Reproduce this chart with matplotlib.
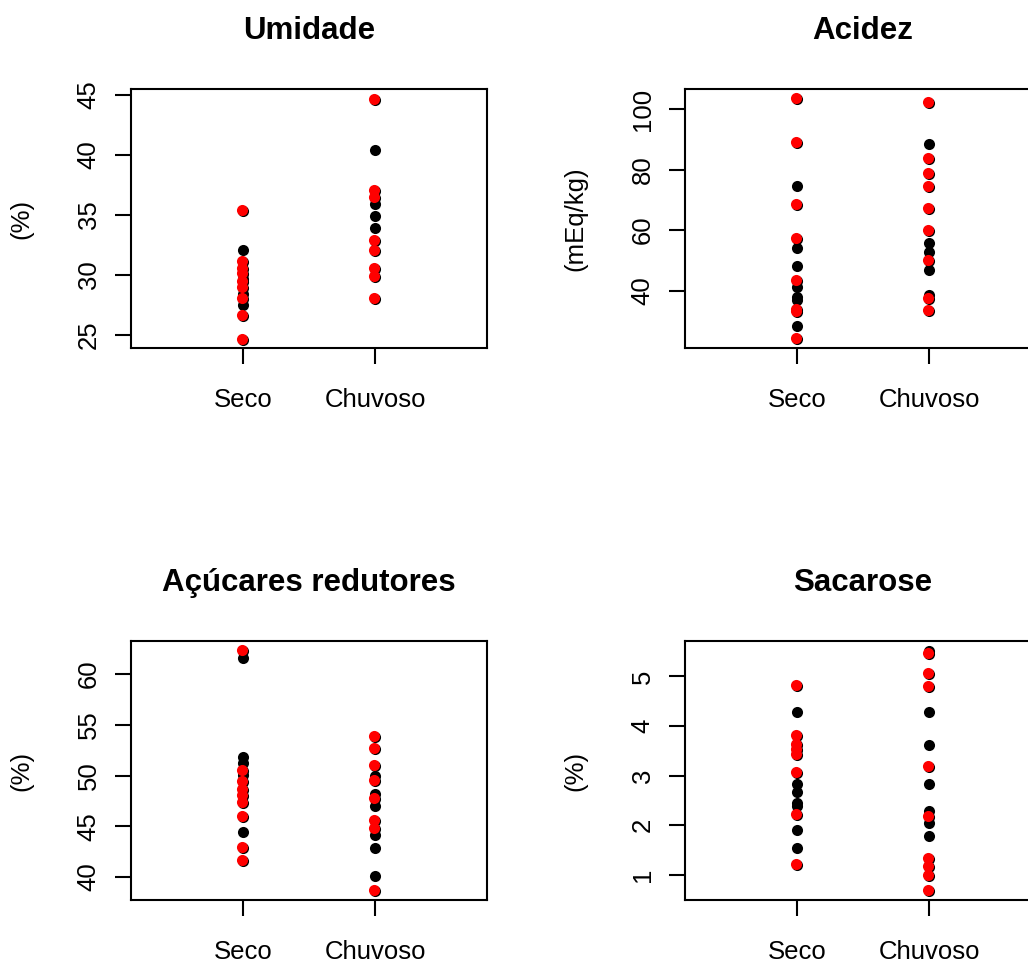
import numpy as np
import matplotlib
matplotlib.use('Agg')
import matplotlib.pyplot as plt
from matplotlib.transforms import offset_copy

plt.rcParams['font.family'] = ['Liberation Sans', 'DejaVu Sans']

groups = ['Seco', 'Chuvoso']
titles = ['Umidade', 'Acidez', 'Açúcares redutores', 'Sacarose']
ylabels = ['(%)', '(mEq/kg)', '(%)', '(%)']

# black points (all samples) and red points (highlighted samples)
umid_seco_black = [32.1, 27.5, 29.7, 28.4]
umid_chuv_black = [40.4, 35.9, 34.9, 33.9]
umid_seco_red = [35.3, 31.1, 30.5, 30.1, 29.4, 28.9, 28.0, 26.6, 24.6]
umid_chuv_red = [44.55, 37.0, 36.4, 32.8, 32.0, 30.5, 29.85, 28.0]

acid_seco_black = [74.6, 54.0, 48.2, 41.1, 37.8, 36.9, 28.3]
acid_chuv_black = [88.5, 55.6, 52.7, 46.7, 38.6]
acid_seco_red = [103.2, 88.7, 68.2, 57.2, 43.2, 33.6, 32.9, 24.0]
acid_chuv_red = [102.0, 83.6, 78.4, 74.3, 67.0, 59.8, 49.8, 37.4, 33.4]

acuc_seco_black = [61.6, 51.8, 51.2, 50.1, 44.4]
acuc_chuv_black = [50.0, 48.2, 47.0, 44.1, 42.9, 40.1]
acuc_seco_red = [62.3, 50.5, 49.4, 48.6, 48.0, 47.3, 45.9, 42.9, 41.6]
acuc_chuv_red = [53.8, 52.6, 50.9, 49.5, 47.7, 45.5, 44.7, 38.6]

sac_seco_black = [4.29, 2.83, 2.67, 2.46, 2.38, 1.91, 1.54]
sac_chuv_black = [5.52, 4.29, 3.61, 2.83, 2.28, 2.04, 1.79]
sac_seco_red = [4.80, 3.79, 3.62, 3.52, 3.42, 3.05, 2.21, 1.20]
sac_chuv_red = [5.45, 5.05, 4.78, 3.18, 2.16, 1.33, 1.16, 0.97, 0.68]

black = [(umid_seco_black, umid_chuv_black), (acid_seco_black, acid_chuv_black),
         (acuc_seco_black, acuc_chuv_black), (sac_seco_black, sac_chuv_black)]
red = [(umid_seco_red, umid_chuv_red), (acid_seco_red, acid_chuv_red),
       (acuc_seco_red, acuc_chuv_red), (sac_seco_red, sac_chuv_red)]

yticks = [[25, 30, 35, 40, 45], [40, 60, 80, 100], [40, 45, 50, 55, 60], [1, 2, 3, 4, 5]]
ylims = [(23.9, 45.5), (21.0, 106.7), (37.7, 63.3), (0.49, 5.72)]

fig = plt.figure(figsize=(10.28, 9.64), dpi=100)
W, H = 1028, 964
boxes = [(130.7, 88.7), (684.7, 88.7), (130.7, 640.7), (684.7, 640.7)]
bw, bh = 356, 259.6

for i in range(4):
    x0, y0 = boxes[i]
    ax = fig.add_axes([x0 / W, (H - y0 - bh) / H, bw / W, bh / H])
    sb, cb = black[i]
    sr, cr = red[i]
    # black first (all points), red on top shifted a pixel
    ax.plot(np.ones(len(sr)), sr, 'o', color='black', ms=8, mew=0)
    ax.plot(np.ones(len(sb)), sb, 'o', color='black', ms=8, mew=0)
    ax.plot(np.full(len(cr), 2), cr, 'o', color='black', ms=8, mew=0)
    ax.plot(np.full(len(cb), 2), cb, 'o', color='black', ms=8, mew=0)
    tr = offset_copy(ax.transData, fig=fig, x=-1, y=1, units='dots')
    ax.plot(np.ones(len(sr)), sr, 'o', color='#ff0000', ms=8, mew=0, transform=tr)
    ax.plot(np.full(len(cr), 2), cr, 'o', color='#ff0000', ms=8, mew=0, transform=tr)

    ax.set_xlim(0.153, 2.844)
    ax.set_ylim(*ylims[i])
    ax.set_xticks([1, 2])
    ax.set_xticklabels(groups)
    ax.set_yticks(yticks[i])
    ax.set_yticklabels([str(t) for t in yticks[i]], rotation=90, va='center')
    ax.tick_params(axis='both', length=11.5, width=1.5, labelsize=18.5, direction='out')
    ax.tick_params(axis='y', pad=10)
    ax.tick_params(axis='x', pad=17)
    for s in ax.spines.values():
        s.set_linewidth(1.5)
    ax.set_title(titles[i], fontsize=22.5, fontweight='bold', pad=36)
    ax.set_ylabel(ylabels[i], fontsize=18.5)
    ax.yaxis.set_label_coords(-0.272, 0.5)

fig.savefig('out.png', dpi=100)
